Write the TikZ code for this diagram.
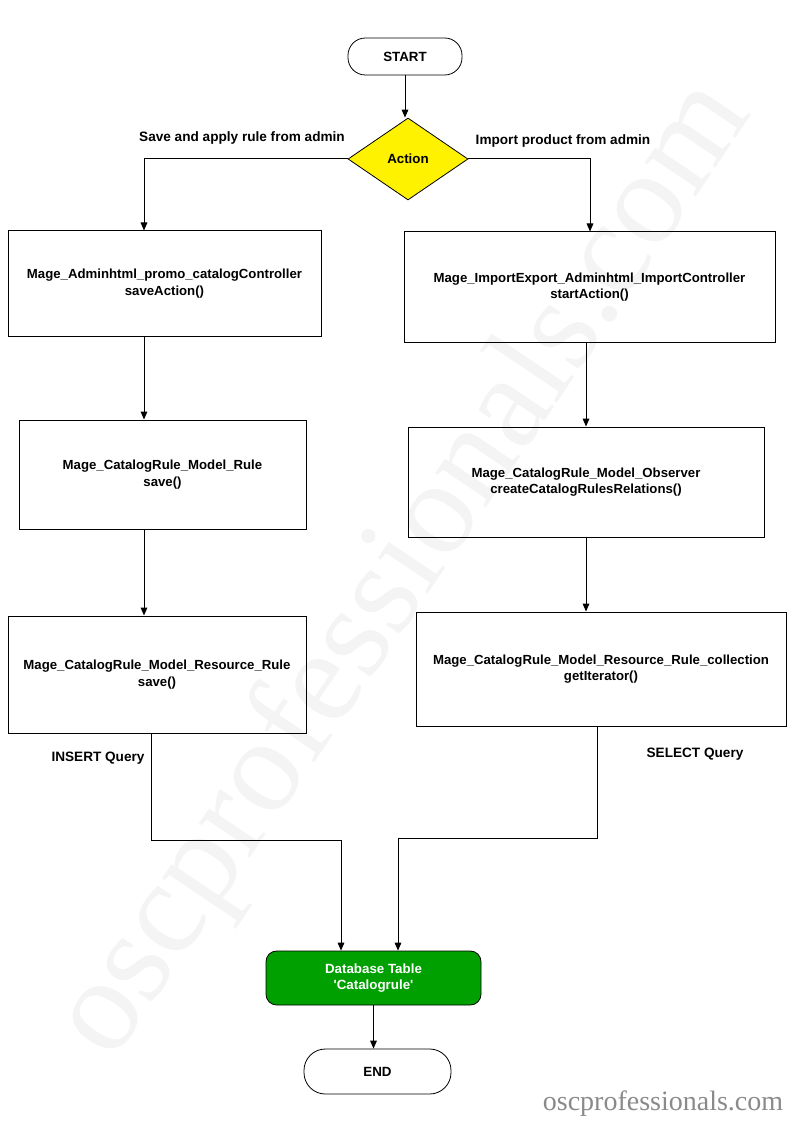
\documentclass[tikz,border=0pt]{standalone}
\usepackage{fontspec}
\setmainfont{Liberation Sans}
\newfontfamily\markfont{Liberation Serif}
\usetikzlibrary{arrows.meta,shapes.geometric}
\definecolor{dbgreen}{HTML}{00A000}
\definecolor{markgray}{HTML}{F4F4F4}
\definecolor{sitegray}{HTML}{8A8A8A}

\begin{document}
\begin{tikzpicture}[x=0.75pt, y=-0.75pt,
    procbox/.style={rectangle, draw=black, line width=0.75pt, align=center,
        font=\fontsize{9.9}{12.4}\selectfont\bfseries, inner sep=0pt},
    terminal/.style={rectangle, draw=black, line width=0.6pt, rounded corners=13pt,
        font=\fontsize{10}{12}\selectfont\bfseries, inner sep=0pt},
    decision/.style={diamond, draw=black, line width=0.6pt, fill=yellow,
        minimum width=90pt, minimum height=61.5pt, inner sep=0pt,
        font=\fontsize{10}{12}\selectfont\bfseries},
    dbbox/.style={rectangle, draw=black, line width=0.6pt, fill=dbgreen, rounded corners=8pt,
        text=white, align=center, inner sep=0pt,
        font=\fontsize{10}{12.4}\selectfont\bfseries},
    flowlabel/.style={font=\fontsize{10.2}{12}\selectfont\bfseries},
    flow/.style={line width=0.75pt, -{Triangle[length=6pt, width=5pt]}},
    link/.style={line width=0.75pt}
]
    \useasboundingbox (0,0) rectangle (794,1123);

    % watermark
    \node[text=markgray, rotate=56, font=\fontsize{100}{100}\markfont] (mark) at (405,570) {oscprofessionals.com};
    \node[text=sitegray, font=\fontsize{21}{22}\markfont] (site) at (663,1104) {oscprofessionals.com};

    \node[terminal, minimum width=85.5pt, minimum height=27.75pt] (start) at (405,56.5) {START};
    \node[decision] (act) at (408,159) {Action};

    \node[procbox, minimum width=234.75pt, minimum height=78.75pt] (adm) at (164.5,283.5)
        {Mage\_Adminhtml\_promo\_catalogController\\saveAction()};
    \node[procbox, minimum width=215.25pt, minimum height=81.75pt] (rule) at (162.5,474.5)
        {Mage\_CatalogRule\_Model\_Rule\\save()};
    \node[procbox, minimum width=223.5pt, minimum height=87.75pt] (res) at (157,674.5)
        {Mage\_CatalogRule\_Model\_Resource\_Rule\\save()};

    \node[procbox, minimum width=278.25pt, minimum height=82.5pt] (imp) at (589.5,287)
        {Mage\_ImportExport\_Adminhtml\_ImportController\\startAction()};
    \node[procbox, minimum width=267pt, minimum height=82.5pt] (obs) at (586,482)
        {Mage\_CatalogRule\_Model\_Observer\\createCatalogRulesRelations()};
    \node[procbox, minimum width=277.5pt, minimum height=85.5pt] (coll) at (601,669)
        {Mage\_CatalogRule\_Model\_Resource\_Rule\_collection\\getIterator()};

    \node[dbbox, minimum width=161.25pt, minimum height=40.5pt] (db) at (373.5,978)
        {Database Table\\\textquotesingle Catalogrule\textquotesingle};
    \node[terminal, minimum width=110.25pt, minimum height=33.75pt, rounded corners=16pt] (stop) at (377.5,1071.5) {END};

    % columns and bends
    \coordinate (lcol) at (144,0);
    \coordinate (rcol) at (590,0);
    \coordinate (rcol2) at (586,0);
    \coordinate (ins1) at (151,840);
    \coordinate (ins2) at (341,840);
    \coordinate (sel1) at (597,838);
    \coordinate (sel2) at (398,838);

    \node[flowlabel] (savelbl) at (242,138) {Save and apply rule from admin};
    \node[flowlabel] (implbl) at (563,141) {Import product from admin};
    \node[flowlabel] (inslbl) at (98,758) {INSERT Query};
    \node[flowlabel] (sellbl) at (695,754) {SELECT Query};

    \draw[flow] (start.south) -- (start.south |- act.north);
    \draw[flow] (act.west) -| (adm.north -| lcol);
    \draw[flow] (act.east) -| (imp.north -| rcol);
    \draw[flow] (adm.south -| lcol) -- (rule.north -| lcol);
    \draw[flow] (rule.south -| lcol) -- (res.north -| lcol);
    \draw[flow] (imp.south -| rcol2) -- (obs.north -| rcol2);
    \draw[flow] (obs.south -| rcol2) -- (coll.north -| rcol2);
    \draw[link] (res.south -| ins1) -- (ins1) -- (ins2);
    \draw[flow] (ins2) -- (db.north -| ins2);
    \draw[link] (coll.south -| sel1) -- (sel1) -- (sel2);
    \draw[flow] (sel2) -- (db.north -| sel2);
    \draw[flow] (db.south) -- (db.south |- stop.north);
\end{tikzpicture}
\end{document}
